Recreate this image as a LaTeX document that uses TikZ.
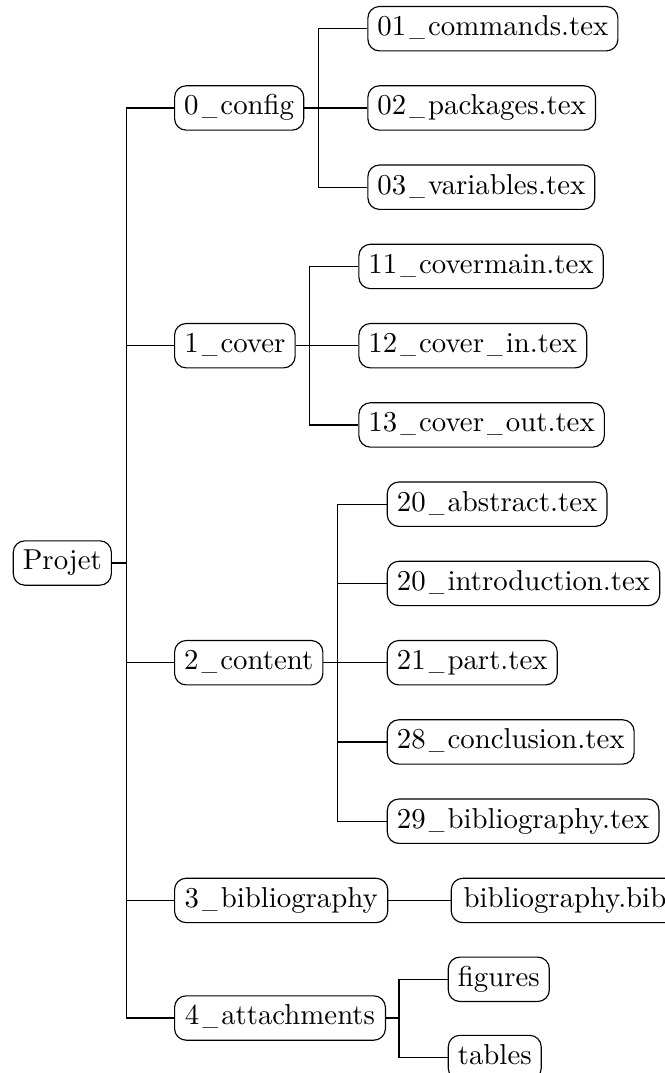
\documentclass[tikz,border=0pt]{standalone}
\newcommand\us{\makebox[7.6pt]{\scalebox{0.72}[1]{\_}}}
\begin{document}
\begin{tikzpicture}[x=0.3472pt,y=-0.3472pt,
  box/.style={draw, line width=0.4pt, rounded corners=4pt, anchor=west,
    inner xsep=3.33pt, inner ysep=3.2pt, text height=6.9pt, text depth=2.1pt,
    minimum width=#1*0.3472pt-0.4pt},
  link/.style={line width=0.4pt}]
\useasboundingbox (0,0) rectangle (665,1073);
% root
\node[box=99] (root) at (12.7,563) {Projet};
% level 1
\node[box=130.3] (c0) at (174,107.95) {0\us config};
\node[box=121.7] (c1) at (174,345.7) {1\us cover};
\node[box=149.3] (c2) at (174,662.7) {2\us content};
\node[box=214.3] (c3) at (174,900.45) {3\us bibliography};
\node[box=212] (c4) at (174,1018) {4\us attachments};
% level 2: config
\node[box=249.7] (a1) at (367.3,28.7) {01\us commands.tex};
\node[box=225.4] (a2) at (367.3,107.95) {02\us packages.tex};
\node[box=226.7] (a3) at (367.3,187.2) {03\us variables.tex};
% cover
\node[box=244.7] (b1) at (358.3,266.45) {11\us covermain.tex};
\node[box=228.5] (b2) at (358.3,345.7) {12\us cover\us in.tex};
\node[box=245.9] (b3) at (358.3,424.95) {13\us cover\us out.tex};
% content
\node[box=220.6] (d1) at (386.7,504.2) {20\us abstract.tex};
\node[box=272.3] (d2) at (386.7,583.45) {20\us introduction.tex};
\node[box=171] (d3) at (386.7,662.7) {21\us part.tex};
\node[box=247.1] (d4) at (386.7,741.95) {28\us conclusion.tex};
\node[box=271.7] (d5) at (386.7,821.2) {29\us bibliography.tex};
% bibliography
\node[box=228.5] (e1) at (450.7,900.45) {bibliography.bib};
% attachments
\node[box=101.6] (f1) at (447.7,979.3) {figures};
\node[box=94] (f2) at (447.7,1057.5) {tables};
% edges
\foreach \c in {c0,c1,c2,c3,c4}
  \draw[link] (root.east) -- ++(14.3,0) |- (\c.west);
\foreach \c in {a1,a2,a3}
  \draw[link] (c0.east) -- ++(14,0) |- (\c.west);
\foreach \c in {b1,b2,b3}
  \draw[link] (c1.east) -- ++(14,0) |- (\c.west);
\foreach \c in {d1,d2,d3,d4,d5}
  \draw[link] (c2.east) -- ++(14.4,0) |- (\c.west);
\draw[link] (c3.east) -- (e1.west);
\foreach \c in {f1,f2}
  \draw[link] (c4.east) -- ++(13,0) |- (\c.west);
\end{tikzpicture}
\end{document}
